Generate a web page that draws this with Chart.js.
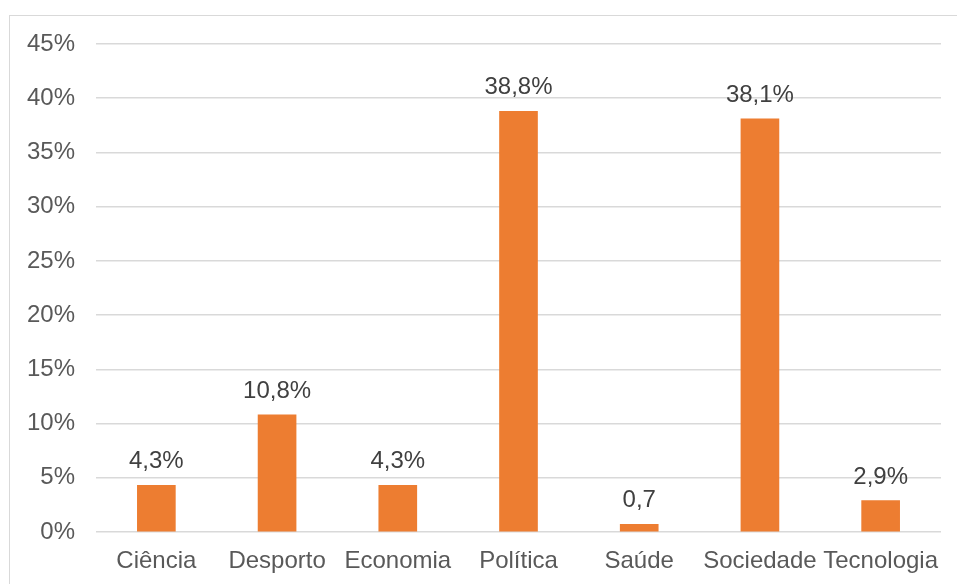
<!DOCTYPE html>
<html>
<head>
<meta charset="utf-8">
<script src="https://cdn.jsdelivr.net/npm/chart.js@4/dist/chart.umd.min.js"></script>
<style>
  html, body { margin: 0; padding: 0; background: #fff; }
  #wrap { position: relative; width: 957px; height: 584px; overflow: hidden; }
  #frame { position: absolute; left: 9px; top: 15px; width: 1000px; height: 1000px;
           border-left: 1px solid #d9d9d9; border-top: 1px solid #d9d9d9; }
  #c { position: absolute; left: 0; top: 0; }
</style>
</head>
<body>
<div id="wrap">
  <div id="frame"></div>
  <canvas id="c" width="957" height="584"></canvas>
</div>
<script>
// Share of items per topic (%)
const categories = ['Ciência', 'Desporto', 'Economia', 'Política', 'Saúde', 'Sociedade', 'Tecnologia'];
const shares = [4.3, 10.8, 4.3, 38.8, 0.7, 38.1, 2.9];
const valueLabels = ['4,3%', '10,8%', '4,3%', '38,8%', '0,7', '38,1%', '2,9%'];
const yTicks = [0, 5, 10, 15, 20, 25, 30, 35, 40, 45];

const FONT = { family: 'Arial, "Liberation Sans", sans-serif', size: 24 };

// Writes each value label just above its bar
const barValueLabels = {
  id: 'barValueLabels',
  afterDatasetsDraw(chart) {
    const ctx = chart.ctx;
    const meta = chart.getDatasetMeta(0);
    ctx.save();
    ctx.font = `${FONT.size}px ${FONT.family}`;
    ctx.fillStyle = '#404040';
    ctx.textAlign = 'center';
    ctx.textBaseline = 'alphabetic';
    meta.data.forEach((bar, i) => {
      ctx.fillText(valueLabels[i], bar.x, bar.y - 17);
    });
    ctx.restore();
  }
};

new Chart(document.getElementById('c'), {
  type: 'bar',
  data: {
    labels: categories,
    datasets: [{
      data: shares,
      backgroundColor: '#ED7D31',
      borderWidth: 0,
      barThickness: 38
    }]
  },
  options: {
    responsive: false,
    animation: false,
    layout: { padding: { top: 44, right: 16, left: 0, bottom: 0 } },
    plugins: { legend: { display: false }, tooltip: { enabled: false } },
    scales: {
      x: {
        grid: { display: false, drawTicks: false },
        border: { display: false },
        ticks: { color: '#595959', font: FONT, padding: 15, maxRotation: 0, autoSkip: false },
        afterFit(scale) { scale.height = 52; }
      },
      y: {
        min: 0,
        max: 45,
        afterBuildTicks(scale) { scale.ticks = yTicks.map(v => ({ value: v })); },
        grid: { color: '#d9d9d9', lineWidth: 1.5, drawTicks: false },
        border: { display: false },
        ticks: { color: '#595959', font: FONT, padding: 21, callback: v => v + '%' },
        afterFit(scale) { scale.width = 96; }
      }
    }
  },
  plugins: [barValueLabels]
});
</script>
</body>
</html>
